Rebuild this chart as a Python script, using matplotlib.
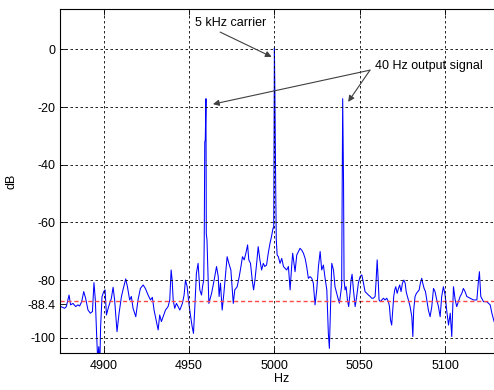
# Spectrum of the 40 Hz output around the 5 kHz carrier
import numpy as np
import matplotlib.pyplot as plt

plt.rcParams['font.family'] = ['Liberation Sans', 'DejaVu Sans']
plt.rcParams['axes.unicode_minus'] = False

OUTPUT_PNG = 'out.png'

# ------------------------------
# Data
# ------------------------------
freq_hz = [
    4874.2, 4877.1, 4878.1, 4879.7, 4880.6, 4882.0, 4883.6, 4884.9, 4885.9, 4887.1,
    4888.3, 4889.4, 4890.8, 4892.2, 4893.4, 4894.3, 4895.1, 4895.9, 4896.5, 4897.1,
    4897.7, 4898.2, 4899.0, 4900.0, 4900.8, 4901.6, 4902.9, 4904.5, 4905.5, 4906.4,
    4907.8, 4909.0, 4910.4, 4911.3, 4912.9, 4913.9, 4915.2, 4916.2, 4917.2, 4918.8,
    4920.1, 4921.5, 4923.1, 4924.4, 4926.0, 4927.4, 4928.5, 4929.5, 4930.9, 4931.9,
    4932.8, 4933.8, 4934.8, 4936.2, 4937.7, 4938.7, 4939.5, 4940.1, 4940.7, 4941.6,
    4942.6, 4943.6, 4944.6, 4946.1, 4947.1, 4947.9, 4948.9, 4949.9, 4950.8, 4951.8,
    4952.6, 4953.4, 4954.3, 4955.3, 4956.3, 4957.3, 4957.9, 4958.6,
    # lower sideband
    4958.9, 4959.2, 4959.5, 4959.9, 4960.1, 4960.5,
    4961.6, 4963.2, 4964.7, 4966.1, 4967.1, 4967.6, 4968.4, 4969.4, 4970.4, 4971.4,
    4972.3, 4973.3, 4974.5, 4975.3, 4975.9, 4976.8, 4978.2, 4979.4, 4980.4, 4981.3,
    4982.3, 4983.3, 4984.3, 4985.0, 4986.0, 4987.0, 4987.8, 4988.6, 4989.7, 4990.5,
    4991.5, 4992.5, 4993.5, 4994.4, 4995.4, 4996.4, 4997.4, 4998.3, 4999.2,
    # carrier
    4999.6, 5000.0, 5000.3, 5000.5, 5000.8, 5001.1,
    5001.6, 5002.3, 5003.3, 5004.3, 5005.3, 5006.2, 5007.2, 5008.2, 5009.2, 5010.1,
    5010.7, 5011.5, 5012.1, 5013.1, 5014.1, 5015.0, 5016.0, 5017.0, 5018.0, 5018.9,
    5019.9, 5020.9, 5021.9, 5022.8, 5023.8, 5024.8, 5025.8, 5026.8, 5027.7, 5028.7,
    5029.7, 5030.7, 5031.6, 5032.2, 5033.0, 5033.6, 5034.6, 5035.5, 5036.5, 5037.5,
    5038.1, 5039.4,
    # upper sideband
    5039.7, 5040.0, 5040.3, 5040.5, 5040.8,
    5041.4, 5042.0, 5042.8, 5043.5, 5044.3, 5044.9, 5045.5, 5046.3, 5047.3, 5048.2,
    5049.2, 5050.2, 5051.2, 5052.2, 5053.1, 5054.1, 5055.1, 5056.1, 5057.0, 5058.0,
    5059.0, 5059.6, 5060.2, 5060.8, 5061.3, 5062.1, 5062.9, 5063.9, 5064.8, 5065.8,
    5066.8, 5067.4, 5068.0, 5068.7, 5069.3, 5069.9, 5070.5, 5071.1, 5071.9, 5072.7,
    5073.4, 5074.2, 5075.0, 5075.8, 5076.6, 5077.2, 5077.7, 5078.5, 5079.5, 5080.5,
    5081.1, 5081.6, 5082.4, 5083.2, 5084.0, 5084.8, 5085.5, 5086.3, 5086.9, 5087.7,
    5088.5, 5089.3, 5090.2, 5091.2, 5092.2, 5093.2, 5094.1, 5095.1, 5096.1, 5097.1,
    5098.0, 5099.0, 5100.0, 5101.0, 5102.0, 5103.0, 5103.9, 5104.9, 5105.9, 5106.8,
    5107.8, 5108.8, 5109.8, 5110.7, 5111.7, 5112.7, 5114.7, 5116.6, 5118.6, 5119.5,
    5120.1, 5120.9, 5122.5, 5124.4, 5126.4, 5127.4, 5128.7, 5130.0,
]

level_db = [
    -89.0, -89.8, -89.2, -85.2, -88.6, -88.1, -89.2, -88.6, -89.0, -87.5,
    -84.0, -86.3, -90.4, -91.5, -90.9, -80.9, -86.9, -99.6, -108.0, -103.1,
    -110.0, -96.1, -85.8, -84.0, -83.4, -92.1, -89.2, -86.3, -82.5, -86.9,
    -97.9, -91.5, -85.7, -83.4, -79.6, -82.3, -86.9, -85.7, -89.8, -92.7,
    -86.9, -82.9, -81.7, -82.9, -85.2, -86.9, -86.0, -90.4, -94.4, -97.3,
    -92.1, -94.4, -92.7, -90.4, -89.2, -86.9, -76.5, -80.0, -86.9, -89.8,
    -88.1, -89.2, -90.4, -88.1, -85.2, -80.0, -82.3, -88.1, -92.1, -96.1,
    -98.5, -89.2, -77.7, -74.2, -83.4, -85.2, -82.3, -80.0,
    -66.0, -32.0, -31.5, -17.1, -64.0, -66.0,
    -88.1, -84.6, -80.0, -75.3, -78.8, -85.7, -81.1, -90.4, -84.6, -77.7,
    -71.9, -74.2, -76.5, -83.4, -88.1, -83.4, -82.3, -78.8, -75.3, -71.9,
    -73.0, -70.7, -67.8, -73.0, -74.2, -80.0, -83.4, -80.0, -73.6, -68.4,
    -73.0, -76.5, -74.2, -75.3, -74.8, -70.7, -67.3, -64.9, -62.0,
    -62.0, 0.5, -16.4, -32.0, -50.5, -66.0,
    -71.3, -71.9, -74.2, -72.5, -75.3, -75.9, -76.5, -75.3, -83.4, -75.3,
    -70.7, -74.2, -77.1, -71.3, -70.1, -69.0, -69.6, -70.7, -72.5, -75.3,
    -79.4, -78.8, -79.4, -81.1, -88.6, -83.4, -75.3, -70.1, -76.5, -74.8,
    -79.4, -83.4, -98.5, -103.7, -86.9, -74.2, -76.5, -82.3, -84.6, -86.9,
    -88.0, -82.0,
    -46.2, -17.1, -33.8, -46.2, -80.0,
    -83.4, -82.3, -86.9, -89.2, -84.6, -80.0, -78.0, -83.4, -89.2, -85.7,
    -81.0, -78.8, -78.2, -81.1, -84.0, -84.6, -85.2, -85.7, -86.3, -86.3,
    -85.7, -80.0, -73.0, -80.0, -86.9, -87.5, -86.9, -86.3, -86.9, -86.3,
    -87.5, -89.2, -93.8, -95.6, -90.4, -85.7, -83.4, -82.3, -84.6, -82.9,
    -81.7, -84.0, -81.1, -80.0, -81.1, -84.0, -85.2, -86.9, -89.2, -92.7,
    -99.6, -90.4, -85.7, -84.6, -84.0, -83.4, -81.1, -79.4, -81.1, -82.9,
    -84.0, -86.9, -90.4, -92.7, -89.2, -82.9, -84.0, -86.9, -89.2, -92.7,
    -85.7, -82.3, -85.2, -90.9, -95.6, -91.5, -99.6, -82.3, -86.9, -89.2,
    -87.5, -85.7, -84.6, -82.9, -84.0, -85.7, -86.3, -86.9, -86.9, -80.5,
    -77.1, -85.7, -87.5, -87.5, -88.6, -91.5, -94.4, -96.0,
]

noise_floor_label = -88.4
noise_floor_line = -87.3
x_ticks = [4900, 4950, 5000, 5050, 5100]
y_ticks = [-100, -80, -60, -40, -20, 0]

# ------------------------------
# Figure
# ------------------------------
fig = plt.figure(figsize=(4.94, 3.90), dpi=100)
ax = fig.add_axes([60 / 494, 36.7 / 390, 444 / 494, 344 / 390])

ax.plot(freq_hz, level_db, color='#0000ff', linewidth=0.75, zorder=2)
ax.axhline(noise_floor_line, color='#ff4848', linewidth=1.0,
           linestyle=(0, (3, 2)), zorder=2.2)

ax.set_xlim(4874.4, 5134.5)
ax.set_ylim(-105.4, 13.9)

ax.set_xticks(x_ticks)
ax.set_yticks(y_ticks)
ax.set_yticks([noise_floor_label], minor=True)
ax.set_yticklabels([f'{noise_floor_label:g}'], minor=True)

ax.tick_params(axis='both', which='both', direction='in', length=4,
               width=0.6, labelsize=9, top=True, right=True)
ax.tick_params(axis='y', which='both', pad=3.5)
ax.tick_params(axis='x', which='both', pad=4.5)

ax.set_axisbelow(False)
ax.grid(True, which='major', color='black', linestyle=(0, (3, 3)), linewidth=0.6)

for spine in ax.spines.values():
    spine.set_linewidth(0.8)
    spine.set_color('black')

ax.set_xlabel('Hz', fontsize=9, labelpad=1)
ax.set_ylabel('dB', fontsize=9)
# MATLAB keeps the label close to the left edge
ax.yaxis.set_label_coords(-42 / 444, 0.5)

# ------------------------------
# Annotations
# ------------------------------
arrow_kw = dict(arrowstyle='-|>', color='#404040', lw=0.8,
                mutation_scale=9, shrinkA=0, shrinkB=0)

ax.text(4953.6, 9.3, '5 kHz carrier', fontsize=9, ha='left', va='center')
ax.annotate('', xy=(4998.4, -2.6), xytext=(4968.2, 6.0), arrowprops=arrow_kw)

ax.text(5059.2, -5.8, '40 Hz output signal', fontsize=9, ha='left', va='center')
ax.annotate('', xy=(4964.0, -19.0), xytext=(5056.0, -7.2), arrowprops=arrow_kw)
ax.annotate('', xy=(5043.2, -18.2), xytext=(5056.0, -7.2), arrowprops=arrow_kw)

plt.savefig(OUTPUT_PNG, dpi=100)
